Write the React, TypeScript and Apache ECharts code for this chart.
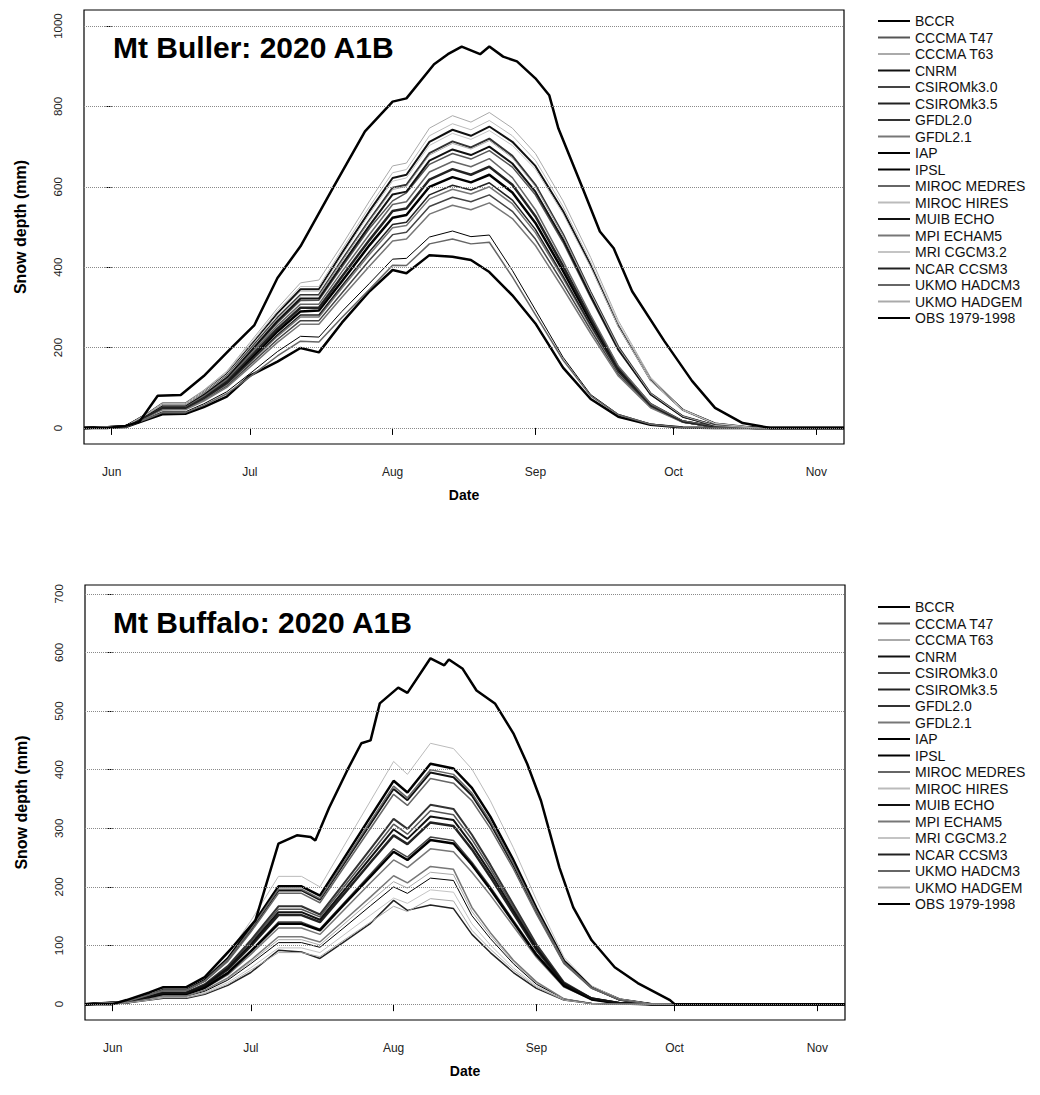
import React, { useEffect, useRef } from 'react';
import * as echarts from 'echarts';

// Day offsets from 1 June shared by the model series
const dayKeys = [-6, 3, 8, 11, 16, 20, 25, 30, 36, 41, 45, 50, 56, 61, 64, 69, 74, 78, 82, 87, 92, 98, 104, 110, 117, 124, 131, 140, 159];

const monthTicks = [0, 30, 61, 92, 122, 153];
const monthNames = ['Jun', 'Jul', 'Aug', 'Sep', 'Oct', 'Nov'];
const bullerTicks = [0, 200, 400, 600, 800, 1000];
const buffaloTicks = [0, 100, 200, 300, 400, 500, 600, 700];

const modelNames = ['BCCR', 'CCCMA T47', 'CCCMA T63', 'CNRM', 'CSIROMk3.0', 'CSIROMk3.5', 'GFDL2.0', 'GFDL2.1', 'IAP', 'IPSL', 'MIROC MEDRES', 'MIROC HIRES', 'MUIB ECHO', 'MPI ECHAM5', 'MRI CGCM3.2', 'NCAR CCSM3', 'UKMO HADCM3', 'UKMO HADGEM'];
const obsName = 'OBS 1979-1998';

// Mt Buller 2020 A1B (mm)
const bullerBCCR = [0, 3, 32, 50, 52, 76, 113, 170, 240, 290, 292, 365, 455, 523, 530, 600, 624, 611, 630, 586, 510, 391, 265, 145, 57, 16, 3, 0, 0];
const bullerCCCMAT47 = [0, 3, 35, 55, 56, 83, 124, 186, 262, 317, 318, 400, 497, 565, 585, 656, 683, 669, 690, 649, 580, 462, 324, 193, 83, 28, 6, 0, 0];
const bullerCCCMAT63 = [0, 4, 39, 63, 63, 94, 141, 212, 298, 361, 368, 455, 565, 652, 659, 746, 777, 761, 785, 746, 683, 565, 424, 267, 126, 47, 12, 0, 0];
const bullerCNRM = [0, 4, 37, 60, 60, 90, 135, 202, 285, 345, 345, 435, 540, 622, 630, 712, 742, 727, 750, 712, 652, 540, 405, 255, 120, 45, 11, 0, 0];
const bullerCSIRO30 = [0, 3, 29, 46, 47, 70, 104, 157, 220, 267, 267, 336, 418, 481, 487, 551, 574, 563, 580, 539, 470, 360, 244, 133, 52, 15, 2, 0, 0];
const bullerCSIRO35 = [0, 3, 32, 52, 52, 78, 117, 176, 247, 299, 299, 377, 468, 540, 546, 618, 644, 630, 650, 605, 527, 403, 273, 150, 59, 16, 3, 0, 0];
const bullerGFDL20 = [0, 4, 36, 58, 58, 86, 130, 194, 274, 331, 331, 418, 518, 598, 605, 684, 713, 698, 720, 677, 605, 482, 338, 202, 86, 29, 6, 0, 0];
const bullerGFDL21 = [0, 3, 30, 48, 48, 72, 108, 162, 228, 276, 276, 348, 432, 498, 504, 570, 594, 582, 600, 558, 486, 372, 252, 138, 54, 15, 2, 0, 0];
const bullerIAP = [0, 2, 25, 40, 40, 60, 90, 135, 190, 228, 226, 290, 360, 420, 422, 475, 490, 476, 480, 392, 294, 176, 83, 34, 10, 1, 0, 0, 0];
const bullerIPSL = [0, 2, 22, 34, 35, 52, 78, 130, 165, 199, 188, 262, 340, 393, 385, 430, 426, 418, 388, 330, 260, 150, 72, 28, 8, 1, 0, 0, 0];
const bullerMIROCMED = [0, 3, 34, 54, 54, 80, 121, 181, 255, 308, 308, 389, 482, 556, 563, 637, 663, 650, 670, 623, 543, 415, 281, 154, 60, 17, 3, 0, 0];
const bullerMIROCHI = [0, 4, 38, 61, 61, 92, 138, 207, 291, 352, 352, 444, 551, 635, 643, 727, 757, 742, 765, 727, 666, 551, 413, 260, 122, 46, 11, 0, 0];
const bullerMUIB = [0, 4, 35, 56, 56, 84, 126, 189, 266, 322, 322, 406, 504, 581, 588, 665, 693, 679, 700, 658, 588, 469, 329, 196, 84, 28, 6, 0, 0];
const bullerMPI = [0, 3, 28, 45, 45, 67, 101, 151, 213, 258, 258, 325, 403, 465, 470, 532, 554, 543, 560, 521, 454, 347, 235, 129, 50, 14, 2, 0, 0];
const bullerMRI = [0, 4, 37, 59, 59, 89, 133, 200, 281, 340, 340, 429, 533, 614, 622, 703, 733, 718, 740, 703, 644, 533, 400, 252, 118, 44, 11, 0, 0];
const bullerNCAR = [0, 3, 31, 49, 49, 73, 110, 165, 232, 281, 281, 354, 439, 506, 512, 580, 604, 592, 610, 567, 494, 378, 256, 140, 55, 15, 2, 0, 0];
const bullerHADCM3 = [0, 2, 24, 38, 38, 56, 85, 127, 179, 216, 214, 275, 345, 405, 404, 458, 470, 458, 462, 376, 282, 169, 80, 33, 9, 1, 0, 0, 0];
const bullerHADGEM = [0, 4, 36, 57, 57, 86, 129, 193, 272, 329, 329, 415, 515, 593, 601, 679, 708, 694, 715, 672, 601, 479, 336, 200, 86, 29, 6, 0, 0];
const bullerObsDays = [-6, -1, 3, 6, 10, 15, 20, 26, 31, 36, 41, 48, 55, 61, 64, 70, 73, 76, 80, 82, 85, 88, 92, 95, 97, 102, 106, 109, 113, 120, 126, 131, 137, 143, 159];
const bullerObs = [0, 0, 5, 15, 80, 82, 129, 199, 256, 373, 452, 596, 738, 812, 820, 905, 930, 949, 930, 949, 924, 912, 870, 828, 745, 604, 489, 447, 340, 216, 117, 50, 12, 0, 0];

// Mt Buffalo 2020 A1B (mm)
const buffaloBCCR = [0, 4, 16, 25, 25, 41, 78, 131, 201, 201, 185, 246, 320, 381, 361, 410, 402, 369, 320, 246, 164, 74, 29, 8, 0, 0, 0, 0, 0];
const buffaloCCCMAT47 = [0, 3, 13, 20, 20, 33, 63, 106, 162, 162, 149, 198, 257, 307, 290, 330, 323, 281, 231, 165, 99, 36, 10, 2, 0, 0, 0, 0, 0];
const buffaloCCCMAT63 = [0, 2, 9, 14, 14, 23, 43, 72, 110, 110, 101, 135, 176, 209, 198, 225, 221, 158, 117, 72, 36, 9, 1, 0, 0, 0, 0, 0, 0];
const buffaloCNRM = [0, 4, 16, 24, 24, 40, 75, 126, 194, 194, 178, 237, 308, 367, 348, 395, 387, 356, 308, 237, 158, 71, 28, 8, 0, 0, 0, 0, 0];
const buffaloCSIRO30 = [0, 3, 11, 17, 17, 29, 54, 91, 140, 140, 128, 171, 222, 265, 251, 285, 279, 242, 200, 143, 86, 31, 9, 1, 0, 0, 0, 0, 0];
const buffaloCSIRO35 = [0, 3, 12, 19, 19, 31, 59, 99, 152, 152, 140, 186, 242, 288, 273, 310, 304, 264, 217, 155, 93, 34, 9, 2, 0, 0, 0, 0, 0];
const buffaloGFDL20 = [0, 3, 14, 20, 20, 34, 65, 109, 167, 167, 153, 204, 265, 316, 299, 340, 333, 289, 238, 170, 102, 37, 10, 2, 0, 0, 0, 0, 0];
const buffaloGFDL21 = [0, 3, 11, 16, 16, 27, 50, 85, 130, 130, 119, 159, 207, 246, 233, 265, 260, 225, 186, 133, 80, 29, 8, 1, 0, 0, 0, 0, 0];
const buffaloIAP = [0, 2, 9, 13, 13, 22, 41, 69, 105, 105, 97, 129, 168, 200, 189, 215, 211, 151, 112, 69, 34, 9, 1, 0, 0, 0, 0, 0, 0];
const buffaloIPSL = [0, 3, 11, 17, 17, 28, 53, 90, 137, 137, 126, 168, 218, 260, 246, 280, 274, 238, 196, 140, 84, 31, 8, 1, 0, 0, 0, 0, 0];
const buffaloMIROCMED = [0, 4, 15, 23, 23, 39, 73, 123, 189, 189, 173, 231, 300, 358, 339, 385, 377, 347, 300, 231, 154, 69, 27, 8, 0, 0, 0, 0, 0];
const buffaloMIROCHI = [0, 4, 18, 27, 27, 45, 85, 142, 218, 218, 200, 267, 347, 414, 392, 445, 436, 401, 347, 267, 178, 80, 31, 9, 0, 0, 0, 0, 0];
const buffaloMUIB = [0, 3, 13, 19, 19, 32, 61, 102, 157, 157, 144, 192, 250, 298, 282, 320, 314, 272, 224, 160, 96, 35, 10, 2, 0, 0, 0, 0, 0];
const buffaloMPI = [0, 2, 9, 14, 14, 24, 45, 75, 115, 115, 106, 141, 183, 219, 207, 235, 230, 165, 122, 75, 38, 9, 1, 0, 0, 0, 0, 0, 0];
const buffaloMRI = [0, 2, 8, 12, 12, 20, 37, 62, 96, 96, 88, 117, 152, 181, 172, 195, 191, 137, 101, 62, 31, 8, 1, 0, 0, 0, 0, 0, 0];
const buffaloNCAR = [0, 2, 7, 10, 10, 17, 32, 54, 92, 89, 78, 105, 138, 177, 160, 169, 163, 119, 88, 54, 27, 7, 1, 0, 0, 0, 0, 0, 0];
const buffaloHADCM3 = [0, 4, 16, 24, 24, 40, 76, 128, 196, 196, 180, 240, 312, 372, 352, 400, 392, 360, 312, 240, 160, 72, 28, 8, 0, 0, 0, 0, 0];
const buffaloHADGEM = [0, 2, 7, 11, 11, 18, 34, 58, 88, 88, 81, 108, 140, 167, 158, 180, 176, 126, 94, 58, 29, 7, 1, 0, 0, 0, 0, 0, 0];
const buffaloObsDays = [-6, 0, 3, 8, 11, 16, 20, 26, 31, 36, 40, 43, 44, 47, 51, 54, 56, 58, 62, 64, 69, 72, 73, 76, 79, 83, 87, 90, 93, 97, 100, 104, 109, 114, 121, 122, 159];
const buffaloObs = [0, 0, 7, 20, 29, 29, 46, 97, 143, 274, 288, 285, 279, 335, 400, 445, 450, 513, 540, 531, 590, 578, 588, 572, 535, 513, 462, 410, 347, 233, 165, 109, 63, 36, 7, 0, 0];

const bullerModels = [bullerBCCR, bullerCCCMAT47, bullerCCCMAT63, bullerCNRM, bullerCSIRO30, bullerCSIRO35, bullerGFDL20, bullerGFDL21, bullerIAP, bullerIPSL, bullerMIROCMED, bullerMIROCHI, bullerMUIB, bullerMPI, bullerMRI, bullerNCAR, bullerHADCM3, bullerHADGEM];
const buffaloModels = [buffaloBCCR, buffaloCCCMAT47, buffaloCCCMAT63, buffaloCNRM, buffaloCSIRO30, buffaloCSIRO35, buffaloGFDL20, buffaloGFDL21, buffaloIAP, buffaloIPSL, buffaloMIROCMED, buffaloMIROCHI, buffaloMUIB, buffaloMPI, buffaloMRI, buffaloNCAR, buffaloHADCM3, buffaloHADGEM];

const modelColors = ['#000000', '#555555', '#aaaaaa', '#111111', '#444444', '#222222', '#333333', '#777777', '#000000', '#000000', '#666666', '#bbbbbb', '#111111', '#777777', '#c4c4c4', '#222222', '#666666', '#aaaaaa'];
const modelWidths = [2.5, 1.5, 1, 2, 1.5, 2.5, 2, 1.5, 1, 2.5, 1.5, 1, 2, 1.5, 1, 1.5, 1.5, 1];

const FONT = '"Liberation Sans", Arial, Helvetica, sans-serif';

export default function App() {
  const ref = useRef<HTMLDivElement>(null);
  useEffect(() => {
    const chart = echarts.init(ref.current as HTMLDivElement, null, { renderer: 'svg' });

    const xAxis = (gridIndex: number) => ({
      type: 'value', gridIndex, min: -6, max: 159,
      name: 'Date', nameLocation: 'middle', nameGap: 44,
      nameTextStyle: { fontFamily: FONT, fontWeight: 'bold', fontSize: 14, color: '#000' },
      axisLine: { show: false },
      axisTick: { show: true, length: 7, customValues: monthTicks, lineStyle: { color: '#000', width: 1 } },
      axisLabel: {
        customValues: monthTicks, margin: 22, fontFamily: FONT, fontSize: 12, color: '#222',
        formatter: (v: number) => { const i = monthTicks.indexOf(v); return i >= 0 ? monthNames[i] : ''; },
      },
      splitLine: { show: false },
    });
    const yAxis = (gridIndex: number, min: number, max: number, ticks: number[]) => ({
      type: 'value', gridIndex, min, max,
      name: 'Snow depth (mm)', nameLocation: 'middle', nameRotate: 90, nameGap: 56,
      nameTextStyle: { fontFamily: FONT, fontWeight: 'bold', fontSize: 16, color: '#000' },
      axisLine: { show: false },
      axisTick: { show: true, length: 6, customValues: ticks, lineStyle: { color: '#000', width: 1 } },
      axisLabel: {
        customValues: ticks, rotate: 90, margin: 20, fontFamily: FONT, fontSize: 11.5, color: '#222',
        formatter: (v: number) => String(v),
      },
      splitLine: { show: false },
    });

    const gridLineSeries = (idx: number, ticks: number[]) => ({
      type: 'line', xAxisIndex: idx, yAxisIndex: idx, data: [[-6, 0]], symbol: 'none', silent: true, z: 1,
      lineStyle: { width: 0 },
      markLine: {
        silent: true, symbol: ['none', 'none'], label: { show: false },
        lineStyle: { type: 'dotted', color: '#8a8a8a', width: 1 },
        data: ticks.map((v) => ({ yAxis: v })),
      },
    });

    const panelSeries = (idx: number, models: number[][], obsDays: number[], obs: number[]) => [
      ...models.map((vals, i) => ({
        name: modelNames[i], type: 'line', xAxisIndex: idx, yAxisIndex: idx, symbol: 'none', z: 2,
        lineStyle: { color: modelColors[i], width: modelWidths[i] }, itemStyle: { color: modelColors[i] },
        data: dayKeys.map((d, j) => [d, vals[j]]),
      })),
      {
        name: obsName, type: 'line', xAxisIndex: idx, yAxisIndex: idx, symbol: 'none', z: 3,
        lineStyle: { color: '#000', width: 2.5 }, itemStyle: { color: '#000' },
        data: obsDays.map((d, j) => [d, obs[j]]),
      },
    ];

    const legendNames = [...modelNames, obsName];
    const legend = (top: number) => ({
      data: legendNames, orient: 'vertical', left: 872, top, itemWidth: 32, itemHeight: 8, itemGap: 2.5,
      selectedMode: false, itemStyle: { opacity: 0, borderWidth: 0 },
      textStyle: { fontFamily: FONT, fontSize: 14, color: '#111' },
    });

    chart.setOption({
      animation: false,
      backgroundColor: '#ffffff',
      grid: [
        { left: 84, top: 10, width: 760, height: 434, show: true, borderColor: '#000', borderWidth: 1.2, backgroundColor: 'transparent' },
        { left: 85, top: 585, width: 760, height: 435, show: true, borderColor: '#000', borderWidth: 1.2, backgroundColor: 'transparent' },
      ],
      xAxis: [xAxis(0), xAxis(1)],
      yAxis: [yAxis(0, -40, 1040, bullerTicks), yAxis(1, -27, 715, buffaloTicks)],
      legend: [legend(9), legend(595)],
      graphic: [
        { type: 'text', left: 113, top: 32, style: { text: 'Mt Buller: 2020 A1B', font: `bold 30px ${FONT}`, fill: '#000' } },
        { type: 'text', left: 113, top: 607, style: { text: 'Mt Buffalo: 2020 A1B', font: `bold 30px ${FONT}`, fill: '#000' } },
      ],
      series: [
        gridLineSeries(0, bullerTicks),
        gridLineSeries(1, buffaloTicks),
        ...panelSeries(0, bullerModels, bullerObsDays, bullerObs),
        ...panelSeries(1, buffaloModels, buffaloObsDays, buffaloObs),
      ],
    });
    return () => chart.dispose();
  }, []);
  return <div ref={ref} style={{ position: 'absolute', left: 0, top: 0, width: 1040, height: 1095 }} />;
}
